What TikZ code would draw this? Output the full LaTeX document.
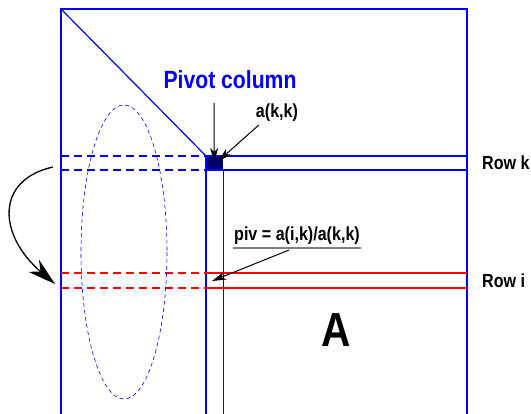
\documentclass[tikz,border=0pt]{standalone}
\usepackage{fontspec}
\setmainfont{Liberation Sans}[FakeStretch=0.85]
\usetikzlibrary{arrows.meta,positioning}
\definecolor{pivblue}{RGB}{0,0,255}
\definecolor{pivnavy}{RGB}{0,0,110}
\definecolor{rowred}{RGB}{255,0,0}

\begin{document}
\begin{tikzpicture}[x=1bp,y=-1bp,
    lbl/.style={font=\bfseries\fontsize{19}{21}\selectfont,inner sep=1pt},
    ptr/.style={-{Stealth[length=14bp,width=8bp,inset=4bp]},black,line width=1bp},
    rowdash/.style={dash pattern=on 8bp off 5bp}]
  \useasboundingbox (0,0) rectangle (531,413);
  % matrix A
  \draw[pivblue,line width=1.6bp] (61,414) -- (61,9) -- (467,9) -- (467,414);
  \draw[pivblue,line width=1.2bp] (61,9) -- (206,156);
  % pivot element and column
  \node[fill=pivnavy,minimum width=17bp,minimum height=14bp,inner sep=0pt,
    anchor=north west] (akk) at (206,156) {};
  \draw[pivblue,line width=1.4bp] (206,156) -- (206,414);
  \draw[pivblue,line width=0.7bp] (223,170) -- (223,414);
  % row k
  \draw[pivblue,line width=1.3bp] (206,156) -- (467,156) (206,170) -- (467,170);
  \draw[pivblue,line width=1.3bp,rowdash] (61,156) -- (206,156) (61,170) -- (206,170);
  % row i
  \draw[rowred,line width=1.3bp] (206,273) -- (467,273) (206,288) -- (467,288);
  \draw[rowred,line width=1.3bp,rowdash] (61,273) -- (206,273) (61,288) -- (206,288);
  % rows below
  \draw[pivblue,line width=0.6bp,dash pattern=on 4bp off 3bp] (124,252) ellipse [x radius=43, y radius=147];

  % labels
  \node[lbl,text=pivblue,font=\bfseries\fontsize{25}{28}\selectfont] (pivcol) at (230,80) {Pivot column};
  \node[lbl,font=\bfseries\fontsize{19}{21}\selectfont] (akklbl) at (277,113) {a(k,k)};
  \node[lbl,anchor=west] (rowk) at (481,163) {Row k};
  \node[lbl,anchor=west] (rowi) at (481,281) {Row i};
  \node[lbl] (piv) at (297,236) {piv = a(i,k)/a(k,k)};
  \draw[gray,line width=1.2bp] ([yshift=-2bp]piv.south west) -- ([yshift=-2bp]piv.south east);
  \node[font=\bfseries\fontsize{48}{52}\selectfont] (matA) at (336,330) {A};

  % pointers
  \coordinate (colarrow) at (214,103);
  \coordinate (pivtip) at (212,281);
  \coordinate (swapfrom) at (53,167);
  \coordinate (swapto) at (55,284);
  \draw[ptr] (colarrow) -- ([xshift=-0.5bp,yshift=-6bp]akk.north);
  \draw[ptr] ([xshift=4bp,yshift=-2bp]akklbl.south west) -- ([xshift=-5bp,yshift=-5bp]akk.north east);
  \draw[ptr] ([xshift=-8bp,yshift=-4bp]piv.south) -- (pivtip);
  \draw[-{Stealth[length=28bp,width=16bp,inset=9bp]},line width=1.3bp]
    (swapfrom) .. controls (-5,180) and (-2,235) .. (swapto);
\end{tikzpicture}
\end{document}
